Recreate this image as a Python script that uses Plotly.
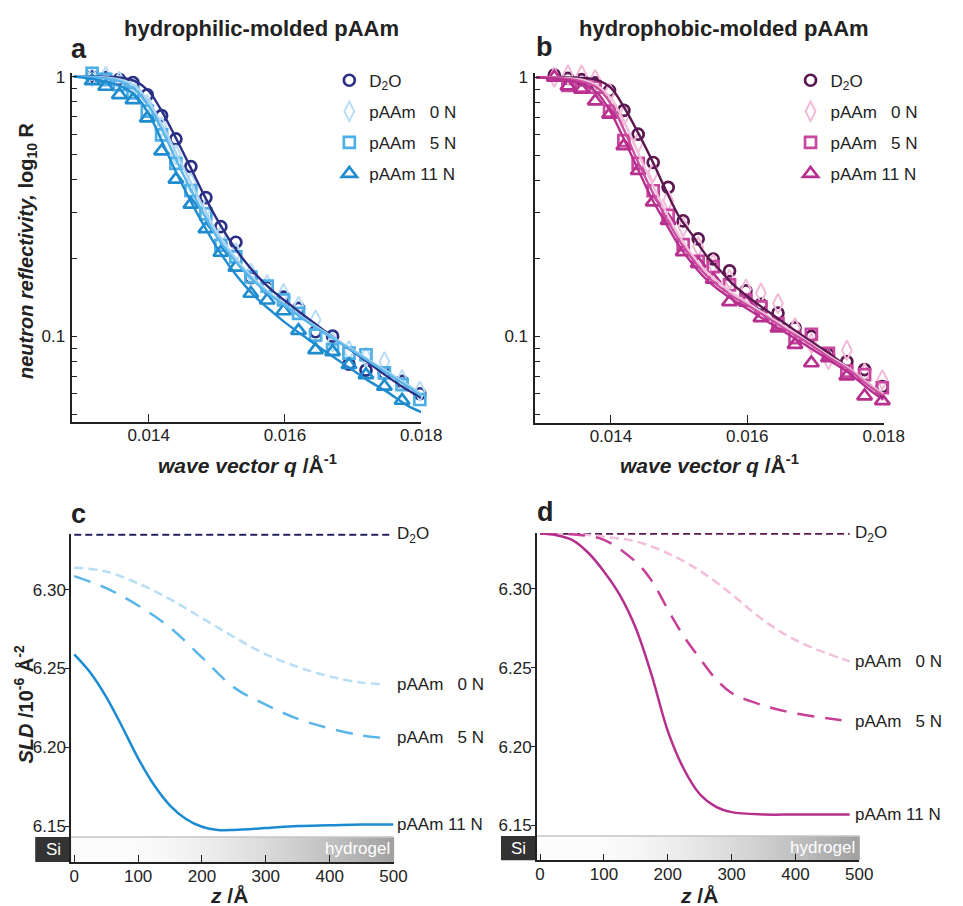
import plotly.graph_objects as go

W, H = 963, 906
FONT = "Liberation Sans, Arial, Helvetica, sans-serif"

# ---------------- reflectivity data (q in 1/Å, R linear) ----------------
Q_PTS = [0.01317, 0.01337, 0.01357, 0.01377, 0.01398, 0.01419, 0.01440, 0.01462,
         0.01484, 0.01506, 0.01528, 0.01550, 0.01574, 0.01598, 0.01620, 0.01645,
         0.01670, 0.01694, 0.01719, 0.01746, 0.01772, 0.01798]

A_D2O = [1.00, 0.99, 0.975, 0.948, 0.851, 0.707, 0.575, 0.450, 0.342, 0.264, 0.230,
         0.168, 0.154, 0.1415, 0.128, 0.104, 0.100, 0.078, 0.074, 0.072, 0.067, 0.060]
A_0N = [1.00, 1.00, 0.96, 0.90, 0.78, 0.64, 0.50, 0.39, 0.31, 0.245, 0.21,
        0.175, 0.158, 0.146, 0.130, 0.1155, 0.095, 0.088, 0.083, 0.0797, 0.068, 0.0614]
A_5N = [1.03, 0.975, 0.93, 0.866, 0.736, 0.596, 0.463, 0.364, 0.296, 0.224, 0.202,
        0.169, 0.156, 0.138, 0.1225, 0.101, 0.0887, 0.086, 0.0848, 0.0722, 0.065, 0.057]
A_11N = [0.962, 0.916, 0.851, 0.814, 0.692, 0.516, 0.402, 0.322, 0.259, 0.210, 0.184,
         0.146, 0.1375, 0.125, 0.105, 0.0886, 0.0871, 0.0776, 0.0709, 0.064, 0.0565, None]

B_D2O = [1.02, 0.99, 0.98, 0.951, 0.889, 0.745, 0.603, 0.469, 0.376, 0.279, 0.238,
         0.199, 0.179, 0.150, 0.133, 0.123, 0.108, 0.100, 0.085, 0.080, 0.0745, 0.064]
B_0N = [1.00, 1.02, 1.02, 0.98, 0.87, 0.71, 0.56, 0.43, 0.335, 0.265, 0.222,
        0.19, 0.166, 0.152, 0.147, 0.134, 0.108, 0.094, 0.0814, 0.0885, 0.072, 0.068]
B_5N = [1.06, 0.931, 0.924, 0.916, 0.741, 0.57, 0.465, 0.365, 0.293, 0.226, 0.195,
        0.186, 0.158, 0.138, 0.130, 0.112, 0.099, 0.102, 0.086, 0.0735, 0.0713, 0.0634]
B_11N = [1.00, 0.924, 0.897, 0.809, 0.719, 0.544, 0.436, 0.33, 0.28, 0.212, 0.191,
         0.166, 0.136, 0.136, 0.118, 0.1077, 0.093, 0.079, 0.0826, 0.0703, 0.0589, 0.0564]

# model fits
Q_FIT = [0.01290, 0.01330, 0.01360, 0.01380, 0.01400, 0.01420, 0.01440, 0.01460,
         0.01480, 0.01500, 0.01520, 0.01540, 0.01560, 0.01580, 0.01600, 0.01630,
         0.01660, 0.01690, 0.01720, 0.01750, 0.01780, 0.01800]
A_FIT_D2O = [1.0, 1.0, 0.99, 0.96, 0.88, 0.73, 0.58, 0.455, 0.355, 0.283, 0.232,
             0.196, 0.17, 0.151, 0.137, 0.119, 0.104, 0.091, 0.080, 0.070, 0.062, 0.058]
A_FIT_0N = [1.0, 0.995, 0.97, 0.92, 0.80, 0.65, 0.51, 0.40, 0.315, 0.252, 0.212,
            0.182, 0.161, 0.145, 0.132, 0.116, 0.103, 0.092, 0.082, 0.073, 0.065, 0.060]
A_FIT_5N = [1.0, 0.99, 0.955, 0.89, 0.77, 0.62, 0.48, 0.375, 0.298, 0.242, 0.205,
            0.178, 0.158, 0.143, 0.131, 0.115, 0.102, 0.091, 0.081, 0.072, 0.064, 0.059]
A_FIT_11N = [1.0, 0.965, 0.915, 0.85, 0.72, 0.56, 0.43, 0.338, 0.27, 0.22, 0.184,
             0.158, 0.139, 0.125, 0.113, 0.099, 0.087, 0.077, 0.068, 0.061, 0.054, 0.051]

B_FIT_D2O = [1.0, 1.0, 0.995, 0.975, 0.91, 0.76, 0.61, 0.48, 0.37, 0.29, 0.245,
             0.205, 0.18, 0.158, 0.143, 0.125, 0.11, 0.097, 0.086, 0.075, 0.065, 0.058]
B_FIT_0N = [1.0, 0.995, 0.975, 0.93, 0.83, 0.67, 0.51, 0.39, 0.305, 0.245, 0.205,
            0.178, 0.16, 0.146, 0.135, 0.12, 0.107, 0.095, 0.084, 0.075, 0.065, 0.060]
B_FIT_5N = [1.0, 0.99, 0.96, 0.91, 0.79, 0.62, 0.47, 0.365, 0.29, 0.235, 0.198,
            0.172, 0.155, 0.142, 0.132, 0.118, 0.105, 0.094, 0.083, 0.074, 0.064, 0.059]
B_FIT_11N = [1.0, 0.98, 0.94, 0.87, 0.73, 0.57, 0.44, 0.34, 0.275, 0.224, 0.19,
             0.166, 0.15, 0.138, 0.128, 0.114, 0.102, 0.091, 0.081, 0.072, 0.062, 0.057]

# ---------------- SLD profiles (z in Å, SLD in 1e-6 Å^-2) ----------------
Z_D2O = [0, 500]
C_D2O = [6.335, 6.335]
Z_C_SOFT = [0, 50, 100, 150, 200, 250, 300, 350, 400, 450, 482]
C_0N = [6.314, 6.3115, 6.304, 6.294, 6.282, 6.270, 6.259, 6.251, 6.245, 6.241, 6.240]
C_5N = [6.3086, 6.301, 6.290, 6.276, 6.257, 6.238, 6.227, 6.218, 6.212, 6.2075, 6.206]
Z_C_11N = [0, 25, 50, 75, 100, 125, 150, 175, 200, 225, 250, 300, 350, 400, 450, 500]
C_11N = [6.259, 6.2475, 6.232, 6.213, 6.193, 6.176, 6.163, 6.1545, 6.1495, 6.1475,
         6.1475, 6.1487, 6.150, 6.1505, 6.151, 6.151]

Z_D_D2O = [0, 485]
D_D2O = [6.335, 6.335]
Z_D_0N = [0, 50, 100, 150, 200, 250, 300, 350, 400, 450, 485]
D_0N = [6.335, 6.3348, 6.333, 6.330, 6.3225, 6.3115, 6.2965, 6.280, 6.2675, 6.259, 6.254]
Z_D_5N = [0, 50, 100, 150, 175, 200, 225, 250, 275, 300, 350, 400, 450, 485]
D_5N = [6.335, 6.3345, 6.331, 6.317, 6.305, 6.287, 6.270, 6.256, 6.243, 6.234,
        6.226, 6.221, 6.218, 6.216]
Z_D_11N = [0, 25, 50, 75, 100, 125, 150, 175, 200, 225, 250, 275, 300, 350, 400, 485]
D_11N = [6.335, 6.334, 6.331, 6.323, 6.311, 6.296, 6.275, 6.245, 6.210, 6.186,
         6.170, 6.162, 6.1585, 6.157, 6.157, 6.157]

SERIES_NAMES = ["D<sub>2</sub>O", "pAAm \u20070 N", "pAAm \u20075 N", "pAAm 11 N"]
LOG_MINOR = [0.05, 0.06, 0.07, 0.08, 0.09, 0.1, 0.2, 0.3, 0.4, 0.5, 0.6, 0.7, 0.8, 0.9, 1.0]
Q_TICKS = [0.014, 0.016, 0.018]
Z_TICKS = [0, 100, 200, 300, 400, 500]
SLD_TICKS = [6.15, 6.20, 6.25, 6.30]

BLUES = ["#2b3085", "#b9ddf6", "#4eafe6", "#1f8ccf"]
BLUE_LINES = ["#2b3085", "#a8d4f2", "#5ab6ea", "#1f8ccf"]
PINKS = ["#5b1750", "#f2bad8", "#c9469e", "#b8308f"]
PINK_LINES = ["#5b1750", "#f0c0db", "#cc4ea2", "#b8308f"]
SYMBOLS = [("circle-open", 11, 2.7), ("diamond-tall-open", 14, 2.0),
           ("square-open", 11, 2.7), ("triangle-up-open", 13, 2.7)]


def fx(px):
    return px / W


def fy(py):
    return 1 - py / H


fig = go.Figure()

# ---------------- panels a and b ----------------
for ax, legend, ys, fits, cols, lcols in [
    ("", "legend", [A_D2O, A_0N, A_5N, A_11N],
     [A_FIT_D2O, A_FIT_0N, A_FIT_5N, A_FIT_11N], BLUES, BLUE_LINES),
    ("2", "legend2", [B_D2O, B_0N, B_5N, B_11N],
     [B_FIT_D2O, B_FIT_0N, B_FIT_5N, B_FIT_11N], PINKS, PINK_LINES),
]:
    for i, (vals, name, col, (sym, size, lw)) in enumerate(zip(ys, SERIES_NAMES, cols, SYMBOLS)):
        fig.add_trace(go.Scatter(
            x=Q_PTS, y=vals, mode="markers", name=name,
            marker=dict(symbol=sym, size=size, color=col, line=dict(color=col, width=lw)),
            xaxis="x" + ax, yaxis="y" + ax, legend=legend,
            legendgroup=legend + str(i), cliponaxis=False))
    for vals, col in zip(fits, lcols):
        fig.add_trace(go.Scatter(
            x=Q_FIT, y=vals, mode="lines", line=dict(color=col, width=2.4, shape="spline"),
            xaxis="x" + ax, yaxis="y" + ax, showlegend=False, hoverinfo="skip"))

# ---------------- panels c and d ----------------
DASHES = ["7px,4px", "9px,5px", "17px,11px", "solid"]
for ax, profs, cols in [
    ("3", [(Z_D2O, C_D2O), (Z_C_SOFT, C_0N), (Z_C_SOFT, C_5N), (Z_C_11N, C_11N)],
     ["#1f1d5c", "#b8def6", "#5ab6ea", "#1a8bd1"]),
    ("4", [(Z_D_D2O, D_D2O), (Z_D_0N, D_0N), (Z_D_5N, D_5N), (Z_D_11N, D_11N)],
     ["#5a1650", "#f2bfdc", "#c83f98", "#b5308c"]),
]:
    for (zz, vv), col, dash in zip(profs, cols, DASHES):
        fig.add_trace(go.Scatter(
            x=zz, y=vv, mode="lines", line=dict(color=col, width=2.5, dash=dash, shape="spline"),
            xaxis="x" + ax, yaxis="y" + ax, showlegend=False, hoverinfo="skip", cliponaxis=False))

# ---------------- axes ----------------
axis_common = dict(showline=True, linecolor="#222", linewidth=1.5, showgrid=False,
                   zeroline=False, ticks="inside", tickcolor="#222", tickwidth=1.3,
                   tickfont=dict(family=FONT, size=17, color="#222"))

dom = {
    "a": ([fx(73), fx(430)], [fy(419), fy(68)]),
    "b": ([fx(546.7), fx(903.3)], [fy(420), fy(68.7)]),
    "c": ([fx(71.7), fx(401.7)], [fy(861.7), fy(531.7)]),
    "d": ([fx(548.3), fx(878.3)], [fy(860), fy(531)]),
}

log_text = ["" if v not in (0.1, 1.0) else ("1" if v == 1.0 else "0.1") for v in LOG_MINOR]

fig.update_layout(
    xaxis=dict(axis_common, domain=dom["a"][0], anchor="y", range=[0.01288, 0.018],
               tickvals=Q_TICKS, ticktext=[f"{v:.3f}" for v in Q_TICKS], ticklen=8,
               ticklabelstandoff=-3),
    yaxis=dict(axis_common, domain=dom["a"][1], anchor="x", type="log",
               range=[-1.3295, 0.0153], tickvals=LOG_MINOR, ticktext=log_text, ticklen=5,
               ticklabelstandoff=2),
    xaxis2=dict(axis_common, domain=dom["b"][0], anchor="y2", range=[0.01289, 0.018],
                tickvals=Q_TICKS, ticktext=[f"{v:.3f}" for v in Q_TICKS], ticklen=8,
                ticklabelstandoff=-3),
    yaxis2=dict(axis_common, domain=dom["b"][1], anchor="x2", type="log",
                range=[-1.3327, 0.0153], tickvals=LOG_MINOR, ticktext=log_text, ticklen=5,
                ticklabelstandoff=2),
    xaxis3=dict(axis_common, domain=dom["c"][0], anchor="y3", range=[-5, 500],
                tickvals=Z_TICKS, ticklen=7, ticklabelstandoff=-2),
    yaxis3=dict(axis_common, domain=dom["c"][1], anchor="x3", range=[6.1272, 6.3355],
                tickvals=SLD_TICKS, tickformat=".2f", ticks="outside", ticklen=4,
                ticklabelstandoff=-4),
    xaxis4=dict(axis_common, domain=dom["d"][0], anchor="y4", range=[-5.2, 500],
                tickvals=Z_TICKS, ticklen=7, ticklabelstandoff=-2),
    yaxis4=dict(axis_common, domain=dom["d"][1], anchor="x4", range=[6.128, 6.3353],
                tickvals=SLD_TICKS, tickformat=".2f", ticks="outside", ticklen=4,
                ticklabelstandoff=-4),
)

legend_common = dict(font=dict(family=FONT, size=17, color="#222"), bgcolor="rgba(0,0,0,0)",
                     borderwidth=0, traceorder="grouped", tracegroupgap=6,
                     xanchor="left", yanchor="top")
fig.update_layout(
    legend=dict(legend_common, x=fx(336), y=fy(58)),
    legend2=dict(legend_common, x=fx(808), y=fy(58)),
)

# ---------------- Si / hydrogel strip under the SLD profiles ----------------
shapes = []
annotations = []
N_STRIPS = 70
for (x0, x1, yb, yt, si0) in [(71.7, 401.7, 861.7, 836.7, 35), (548.3, 878.3, 860, 835.5, 511.7)]:
    for k in range(N_STRIPS):
        t = (k + 0.5) / N_STRIPS
        g = int(round(252 - 92 * max(0.0, (t - 0.15) / 0.85) ** 1.6))
        shapes.append(dict(type="rect", xref="paper", yref="paper", layer="below",
                           x0=fx(x0 + (x1 - x0) * k / N_STRIPS),
                           x1=fx(x0 + (x1 - x0) * (k + 1) / N_STRIPS + 0.6),
                           y0=fy(yb), y1=fy(yt), line=dict(width=0),
                           fillcolor=f"rgb({g},{g},{g})"))
    shapes.append(dict(type="line", xref="paper", yref="paper", layer="below",
                       x0=fx(x0), x1=fx(x1), y0=fy(yt), y1=fy(yt),
                       line=dict(color="#c4c4c4", width=1.5)))
    shapes.append(dict(type="rect", xref="paper", yref="paper", layer="below",
                       x0=fx(si0), x1=fx(x0), y0=fy(yb), y1=fy(yt),
                       line=dict(width=0), fillcolor="#333333"))
    annotations.append(dict(xref="paper", yref="paper", x=fx((si0 + x0) / 2), y=fy((yb + yt) / 2),
                            text="Si", showarrow=False, xanchor="center", yanchor="middle",
                            font=dict(family=FONT, size=17, color="white")))
    annotations.append(dict(xref="paper", yref="paper", x=fx(x1 - 2), y=fy((yb + yt) / 2 - 1),
                            text="hydrogel", showarrow=False, xanchor="right", yanchor="middle",
                            font=dict(family=FONT, size=17, color="white")))

# ---------------- profile labels at line ends ----------------
for ax, xlab, profs in [
    ("3", 1.004, [C_D2O, C_0N, C_5N, C_11N]),
    ("4", 0.981, [D_D2O, D_0N, D_5N, D_11N]),
]:
    for name, vals in zip(SERIES_NAMES, profs):
        annotations.append(dict(xref="x" + ax + " domain", yref="y" + ax, x=xlab, y=vals[-1],
                                text=name, showarrow=False, xanchor="left", yanchor="middle",
                                font=dict(family=FONT, size=17, color="#222")))

# ---------------- titles, panel letters, axis titles ----------------
def text(x, y, s, size=17, angle=0, xanchor="center"):
    annotations.append(dict(xref="paper", yref="paper", x=fx(x), y=fy(y), text=s,
                            showarrow=False, xanchor=xanchor, yanchor="middle", textangle=angle,
                            font=dict(family=FONT, size=size, color="#222")))


text(267, 24, "<b>hydrophilic-molded pAAm</b>", 22)
text(740, 24, "<b>hydrophobic-molded pAAm</b>", 22)
text(70, 44, "<b>a</b>", 27, xanchor="left")
text(545, 42, "<b>b</b>", 27, xanchor="left")
text(70, 512, "<b>c</b>", 27, xanchor="left")
text(546, 510, "<b>d</b>", 27, xanchor="left")

q_title = "<b><i>wave vector q</i> /Å<sup>-1</sup></b>"
text(252, 462, q_title, 21)
text(725, 462, q_title, 21)
text(27, 247, "<b><i>neutron reflectivity,</i> log<sub>10</sub> R</b>", 20, angle=-90)
text(23, 703, "<b><i>SLD</i> /10<sup>-6</sup> Å<sup>-2</sup></b>", 20, angle=-90)
text(233, 895, "<b><i>z</i> /Å</b>", 21)
text(714, 895, "<b><i>z</i> /Å</b>", 21)

fig.update_layout(
    width=W, height=H, margin=dict(l=0, r=0, t=0, b=0),
    paper_bgcolor="white", plot_bgcolor="rgba(0,0,0,0)",
    font=dict(family=FONT, color="#222"),
    shapes=shapes, annotations=annotations,
)

fig.write_html("out.html")
